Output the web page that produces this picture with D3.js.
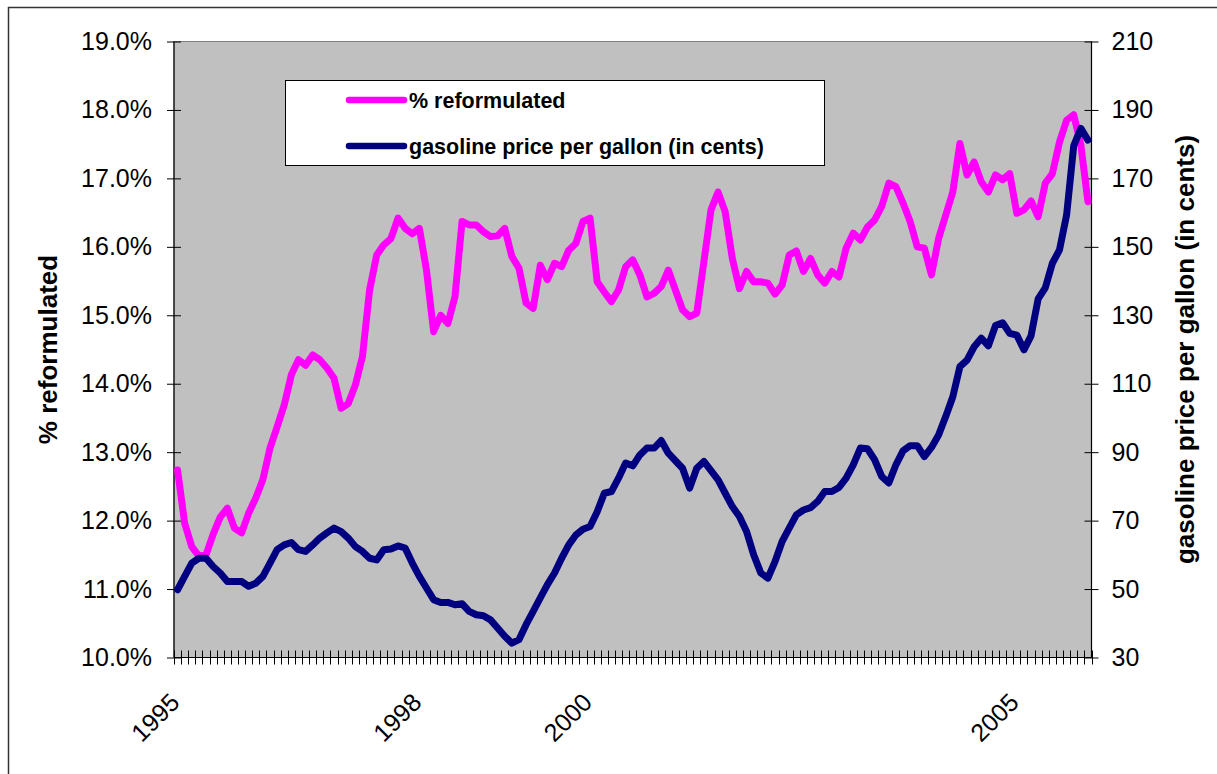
<!DOCTYPE html>
<html>
<head>
<meta charset="utf-8">
<script src="https://d3js.org/d3.v7.min.js"></script>
<style>
  body { margin: 0; background: #fff; }
  svg { display: block; font-family: "Liberation Sans", Arial, sans-serif; }
</style>
</head>
<body>
<svg id="chart"></svg>
<script>
// category labels (monthly, only a few carry a year)
var yearLabels = {1: "1995", 35: "1998", 59: "2000", 119: "2005"};
var nMonths = 129;
var categories = d3.range(nMonths).map(function(i) { return yearLabels[i] || ""; });

// % reformulated (left axis)
var pctReformulated = [
  12.74, 11.96, 11.62, 11.48, 11.50, 11.80, 12.05, 12.18, 11.89, 11.82,
  12.11, 12.33, 12.60, 13.06, 13.37, 13.69, 14.13, 14.35, 14.27, 14.42,
  14.35, 14.23, 14.08, 13.64, 13.71, 13.98, 14.40, 15.37, 15.88, 16.03,
  16.12, 16.42, 16.27, 16.19, 16.27, 15.66, 14.76, 15.00, 14.88, 15.27,
  16.37, 16.32, 16.32, 16.22, 16.15, 16.16, 16.27, 15.86, 15.69, 15.18,
  15.10, 15.73, 15.52, 15.76, 15.71, 15.95, 16.05, 16.37, 16.42, 15.49,
  15.34, 15.20, 15.37, 15.71, 15.81, 15.59, 15.27, 15.32, 15.42, 15.66,
  15.37, 15.08, 14.98, 15.03, 15.78, 16.54, 16.80, 16.51, 15.83, 15.39,
  15.64, 15.49, 15.49, 15.47, 15.31, 15.44, 15.88, 15.94, 15.64, 15.83,
  15.59, 15.47, 15.64, 15.56, 15.98, 16.20, 16.10, 16.29, 16.39, 16.59,
  16.93, 16.88, 16.64, 16.37, 16.00, 15.98, 15.59, 16.12, 16.46, 16.80,
  17.51, 17.05, 17.24, 16.95, 16.80, 17.05, 16.98, 17.07, 16.49, 16.54,
  16.67, 16.44, 16.93, 17.07, 17.53, 17.85, 17.93, 17.49, 16.66
];

// gasoline price per gallon in cents (right axis)
var gasPrice = [
  49.8, 53.7, 57.6, 59.0, 59.0, 56.6, 54.7, 52.2, 52.2, 52.2,
  50.8, 51.7, 53.7, 57.6, 61.5, 62.9, 63.6, 61.5, 61.0, 62.9,
  64.9, 66.4, 67.8, 66.8, 64.9, 62.4, 61.0, 59.0, 58.5, 61.5,
  61.7, 62.6, 62.0, 57.6, 53.7, 50.3, 46.9, 46.1, 46.1, 45.4,
  45.7, 43.5, 42.5, 42.2, 41.0, 38.6, 36.2, 34.2, 35.2, 39.6,
  43.5, 47.4, 51.3, 54.7, 59.0, 62.9, 65.8, 67.5, 68.3, 72.6,
  78.0, 78.5, 82.4, 86.8, 86.0, 89.2, 91.2, 91.2, 93.4, 89.7,
  87.5, 85.3, 79.5, 85.3, 87.3, 84.6, 81.9, 78.0, 74.1, 71.2,
  66.8, 60.0, 54.7, 53.2, 58.0, 63.9, 67.8, 71.7, 73.1, 73.8,
  75.6, 78.5, 78.5, 79.7, 82.4, 86.3, 91.2, 91.0, 87.8, 82.9,
  81.0, 86.3, 90.4, 91.9, 91.9, 88.7, 91.4, 95.0, 100.4, 106.2,
  115.0, 116.9, 120.8, 123.3, 121.1, 127.0, 127.8, 124.7, 124.2, 119.9,
  124.0, 134.8, 138.0, 145.2, 149.1, 159.3, 179.5, 184.6, 181.2
];

var leftTicks = [10, 11, 12, 13, 14, 15, 16, 17, 18, 19];
var rightTicks = [30, 50, 70, 90, 110, 130, 150, 170, 190, 210];

var seriesNames = ["% reformulated", "gasoline price per gallon (in cents)"];
var seriesColors = ["#FF00FF", "#000080"];

var W = 1217, H = 774;
var plot = {left: 174, right: 1091.5, top: 41.5, bottom: 657.5};

var svg = d3.select("#chart").attr("width", W).attr("height", H);

// chart area border
svg.append("rect")
    .attr("x", 8.5).attr("y", 7.5)
    .attr("width", W + 20).attr("height", H + 20)
    .attr("fill", "#fff")
    .attr("stroke", "#333").attr("stroke-width", 1.5);

var x = d3.scaleBand()
    .domain(d3.range(nMonths))
    .range([plot.left, plot.right])
    .padding(0);
var bw = x.bandwidth();

var yL = d3.scaleLinear().domain([10, 19]).range([plot.bottom, plot.top]);
var yR = d3.scaleLinear().domain([30, 210]).range([plot.bottom, plot.top]);

// plot area
svg.append("rect")
    .attr("x", plot.left).attr("y", plot.top)
    .attr("width", plot.right - plot.left).attr("height", plot.bottom - plot.top)
    .attr("fill", "#C0C0C0")
    .attr("stroke", "#808080").attr("stroke-width", 1);

// left axis
var gL = svg.append("g")
    .attr("transform", "translate(" + plot.left + ",0)")
    .call(d3.axisLeft(yL)
        .tickValues(leftTicks)
        .tickSize(7)
        .tickPadding(15)
        .tickFormat(function(d) { return d.toFixed(1) + "%"; }));
gL.select(".domain").attr("stroke", "#000").attr("stroke-width", 1.2).attr("d", "M0," + plot.top + "V" + plot.bottom);
gL.selectAll(".tick line").attr("x1", 7).attr("x2", -7).attr("stroke", "#000");
gL.selectAll(".tick text").attr("font-size", 25).attr("fill", "#000")
    .style("font-family", "'Liberation Sans', Arial, sans-serif");

// right axis
var gR = svg.append("g")
    .attr("transform", "translate(" + plot.right + ",0)")
    .call(d3.axisRight(yR)
        .tickValues(rightTicks)
        .tickSize(7)
        .tickPadding(13));
gR.select(".domain").attr("stroke", "#000").attr("stroke-width", 1.2).attr("d", "M0," + plot.top + "V" + plot.bottom);
gR.selectAll(".tick line").attr("x1", -7).attr("x2", 7).attr("stroke", "#000");
gR.selectAll(".tick text").attr("font-size", 25).attr("fill", "#000")
    .style("font-family", "'Liberation Sans', Arial, sans-serif");

// category axis
var gX = svg.append("g");
gX.append("line")
    .attr("x1", plot.left).attr("x2", plot.right)
    .attr("y1", plot.bottom).attr("y2", plot.bottom)
    .attr("stroke", "#000").attr("stroke-width", 1.2);
gX.selectAll("line.tick")
    .data(d3.range(nMonths + 1))
    .enter().append("line")
    .attr("class", "tick")
    .attr("x1", function(i) { return Math.round(plot.left + i * bw) + 0.5; })
    .attr("x2", function(i) { return Math.round(plot.left + i * bw) + 0.5; })
    .attr("y1", plot.bottom - 7).attr("y2", plot.bottom + 7)
    .attr("stroke", "#000").attr("stroke-width", 1);
gX.selectAll("text")
    .data(categories.map(function(c, i) { return {label: c, i: i}; })
        .filter(function(d) { return d.label !== ""; }))
    .enter().append("text")
    .attr("transform", function(d) {
        return "translate(" + (x(d.i) + bw / 2 - 3.5) + ",704) rotate(-45)";
    })
    .attr("text-anchor", "end")
    .attr("font-size", 25)
    .text(function(d) { return d.label; });

// series lines
var lineL = d3.line()
    .x(function(d, i) { return x(i) + bw / 2; })
    .y(function(d) { return yL(d); });
var lineR = d3.line()
    .x(function(d, i) { return x(i) + bw / 2; })
    .y(function(d) { return yR(d); });

svg.append("path")
    .datum(pctReformulated)
    .attr("d", lineL)
    .attr("fill", "none")
    .attr("stroke", seriesColors[0])
    .attr("stroke-width", 7)
    .attr("stroke-linejoin", "round")
    .attr("stroke-linecap", "round");

svg.append("path")
    .datum(gasPrice)
    .attr("d", lineR)
    .attr("fill", "none")
    .attr("stroke", seriesColors[1])
    .attr("stroke-width", 7)
    .attr("stroke-linejoin", "round")
    .attr("stroke-linecap", "round");

// axis titles
svg.append("text")
    .attr("transform", "translate(57," + ((plot.top + plot.bottom) / 2) + ") rotate(-90)")
    .attr("text-anchor", "middle")
    .attr("font-size", 26).attr("font-weight", "bold")
    .text(seriesNames[0]);

svg.append("text")
    .attr("transform", "translate(1194," + ((plot.top + plot.bottom) / 2) + ") rotate(-90)")
    .attr("text-anchor", "middle")
    .attr("font-size", 26).attr("font-weight", "bold")
    .text("gasoline price per gallon (in cents)");

// legend
var legend = svg.append("g");
legend.append("rect")
    .attr("x", 285.5).attr("y", 80.5)
    .attr("width", 539).attr("height", 85)
    .attr("fill", "#fff").attr("stroke", "#000").attr("stroke-width", 1);

var entries = legend.selectAll("g.entry")
    .data(seriesNames)
    .enter().append("g")
    .attr("class", "entry")
    .attr("transform", function(d, i) { return "translate(0," + (100 + i * 46) + ")"; });
entries.append("line")
    .attr("x1", 349).attr("x2", 404)
    .attr("stroke", function(d, i) { return seriesColors[i]; })
    .attr("stroke-width", 6.5)
    .attr("stroke-linecap", "round");
entries.append("text")
    .attr("x", 409).attr("y", 8)
    .attr("font-size", 21.5).attr("font-weight", "bold")
    .text(function(d) { return d; });
</script>
</body>
</html>
